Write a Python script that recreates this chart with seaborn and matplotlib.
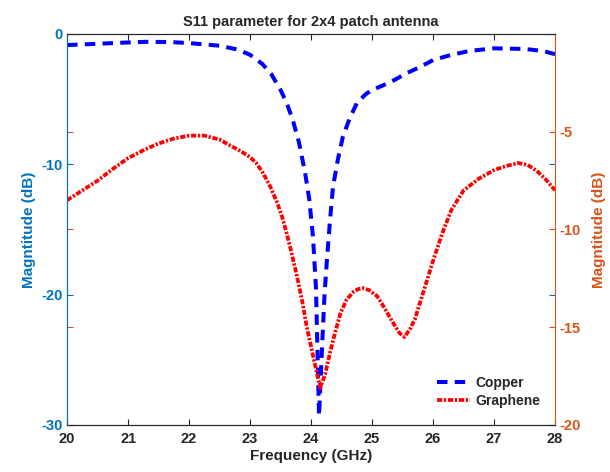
import matplotlib
matplotlib.use("Agg")
import matplotlib.pyplot as plt
import seaborn as sns
import pandas as pd

# Copper (left axis)
cu_freq = [20.0, 20.5, 21.0, 21.3, 21.7, 22.0, 22.5, 22.8, 23.0, 23.2, 23.35, 23.5, 23.6, 23.7, 23.8,
           23.9, 23.97, 24.03, 24.08, 24.13, 24.18, 24.22, 24.26, 24.31, 24.36, 24.44, 24.52, 24.63,
           24.75, 24.9, 25.0, 25.3, 25.57, 25.8, 26.0, 26.3, 26.6, 27.0, 27.5, 27.8, 28.0]
cu_db = [-0.85, -0.75, -0.65, -0.6, -0.62, -0.7, -0.9, -1.2, -1.6, -2.3, -3.1, -4.3, -5.3, -6.6, -8.3,
         -10.6, -12.7, -15.5, -19.5, -29.3, -24.0, -20.0, -17.3, -14.3, -11.7, -9.6, -7.9, -6.5,
         -5.3, -4.6, -4.3, -3.7, -3.0, -2.5, -2.0, -1.6, -1.3, -1.1, -1.15, -1.3, -1.55]

# Graphene (right axis)
gr_freq = [20.0, 20.25, 20.5, 20.75, 21.0, 21.25, 21.5, 21.75, 22.0, 22.25, 22.5, 22.67, 22.85, 23.0,
           23.1, 23.21, 23.33, 23.44, 23.52, 23.6, 23.68, 23.77, 23.85, 23.93, 24.0, 24.07, 24.15,
           24.23, 24.31, 24.4, 24.48, 24.58, 24.69, 24.77, 24.85, 24.95, 25.08, 25.2, 25.35, 25.45,
           25.53, 25.62, 25.7, 25.8, 25.9, 26.0, 26.15, 26.3, 26.5, 26.75, 27.0, 27.2, 27.4, 27.55,
           27.7, 27.85, 28.0]
gr_db = [-8.5, -8.0, -7.5, -6.9, -6.35, -5.95, -5.6, -5.35, -5.2, -5.2, -5.4, -5.7, -6.0, -6.3,
         -6.6, -7.1, -7.8, -8.6, -9.3, -10.2, -11.2, -12.4, -13.6, -15.0, -16.0, -17.0, -18.1,
         -17.4, -16.3, -15.2, -14.3, -13.6, -13.2, -13.05, -13.0, -13.1, -13.4, -14.0, -14.8, -15.3,
         -15.5, -15.1, -14.6, -13.6, -12.6, -11.6, -10.2, -9.0, -8.0, -7.4, -6.96, -6.75, -6.6, -6.7,
         -7.0, -7.45, -8.0]

left_ticks = [0, -10, -20, -30]
right_ticks = [-5, -10, -15, -20]
x_ticks = [20, 21, 22, 23, 24, 25, 26, 27, 28]

sns.set_style("white")
plt.rcParams['font.family'] = ['Liberation Sans', 'DejaVu Sans']

BLUE_AX = "#0072BD"
ORANGE_AX = "#D95319"
DARK = "#262626"

fig = plt.figure(figsize=(6.1, 4.72), dpi=100)
ax = fig.add_axes([0.110, 0.0996, 0.800, 0.8284])
ax2 = ax.twinx()

df_cu = pd.DataFrame({"f": cu_freq, "db": cu_db})
df_gr = pd.DataFrame({"f": gr_freq, "db": gr_db})

sns.lineplot(data=df_cu, x="f", y="db", ax=ax, color="#0000FF", linewidth=2.9,
             linestyle=(0, (2.6, 1.8)), label="Copper", legend=False, sort=False)
sns.lineplot(data=df_gr, x="f", y="db", ax=ax2, color="#FF0000", linewidth=2.7,
             linestyle=(0, (1.4, 0.45, 0.6, 0.45)), label="Graphene", legend=False, sort=False)

ax.set_xlim(20, 28)
ax.set_ylim(-30, 0)
ax2.set_ylim(-20, 0)
ax.set_xticks(x_ticks)
ax.set_xticklabels([str(t) for t in x_ticks])
ax.set_yticks(left_ticks)
ax.set_yticklabels([str(t) for t in left_ticks])
ax2.set_yticks(right_ticks)
ax2.set_yticklabels([str(t) for t in right_ticks])

for a in (ax, ax2):
    a.tick_params(direction="in", length=4, width=0.8, labelsize=10.5)
    for lab in a.get_xticklabels() + a.get_yticklabels():
        lab.set_fontweight("bold")

ax.tick_params(axis="x", colors=DARK, labelcolor=DARK, top=True, bottom=True, pad=5)
ax.tick_params(axis="y", colors=BLUE_AX, labelcolor=BLUE_AX, left=True, right=True, pad=3)
ax2.tick_params(axis="y", colors=ORANGE_AX, labelcolor=ORANGE_AX, left=True, right=True, pad=3)
ax2.tick_params(axis="y", labelleft=False)

for a in (ax, ax2):
    for s in a.spines.values():
        s.set_linewidth(0.8)
ax2.spines["left"].set_color(BLUE_AX)
ax2.spines["right"].set_color(ORANGE_AX)
ax2.spines["bottom"].set_color(DARK)
ax2.spines["top"].set_color(DARK)
ax.spines["left"].set_color(BLUE_AX)
ax.spines["right"].set_visible(False)

ax.set_xlabel("Frequency (GHz)", fontsize=11, fontweight="bold", color=DARK, labelpad=2)
ax.set_ylabel("Magntitude (dB)", fontsize=11, fontweight="bold", color=BLUE_AX, labelpad=4)
ax2.set_ylabel("Magntitude (dB)", fontsize=11, fontweight="bold", color=ORANGE_AX, labelpad=8)
ax.set_title("S11 parameter for 2x4 patch antenna", fontsize=10.5, fontweight="bold", pad=6)

h1, l1 = ax.get_legend_handles_labels()
h2, l2 = ax2.get_legend_handles_labels()
leg = ax2.legend(h1 + h2, l1 + l2, loc="lower right", bbox_to_anchor=(0.995, 0.012),
                 frameon=False, fontsize=10, handlelength=2.4, handletextpad=0.35,
                 labelspacing=0.3)
for t in leg.get_texts():
    t.set_fontweight("bold")

fig.savefig("out.png", dpi=100)
